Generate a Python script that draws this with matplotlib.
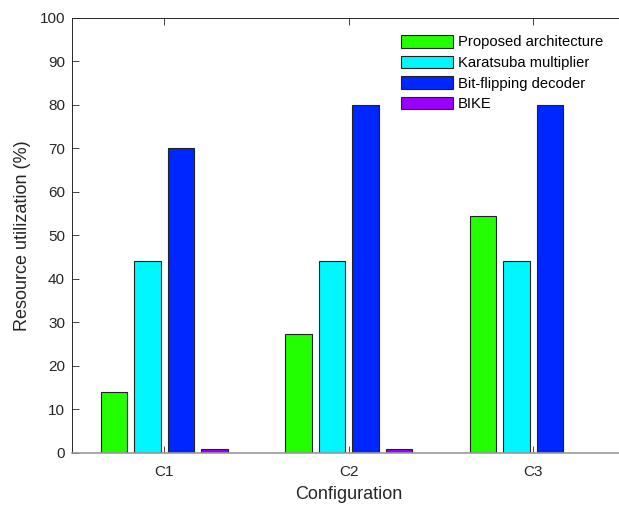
import numpy as np
import matplotlib
matplotlib.use("Agg")
import matplotlib.pyplot as plt

plt.rcParams["font.family"] = ["Liberation Sans", "DejaVu Sans"]

# ── data ───────────────────────────────────────────────────────────────────────
configs   = ["C1", "C2", "C3"]
proposed  = [14.1, 27.3, 54.4]
karatsuba = [44.0, 44.0, 44.0]
bitflip   = [70.0, 80.0, 80.0]
bike      = [0.9, 0.9, np.nan]

series = [
    ("Proposed architecture", proposed,  "#22FF00"),
    ("Karatsuba multiplier",  karatsuba, "#00F7FF"),
    ("Bit-flipping decoder",  bitflip,   "#0026FF"),
    ("BIKE",                  bike,      "#9B00FF"),
]

# ── figure ─────────────────────────────────────────────────────────────────────
fig = plt.figure(figsize=(6.19, 5.07), dpi=100)
ax = fig.add_axes([72/619, 1 - 453/507, 553.5/619, 435.5/507])

x = np.arange(1, len(configs) + 1)
pitch = 0.182
width = 0.145
for i, (lbl, vals, col) in enumerate(series):
    ax.bar(x + (i - 1.5) * pitch, vals, width=width, color=col,
           edgecolor="#222222", linewidth=0.8, label=lbl, zorder=2)

ax.set_xlim(0.5, 3.5)
ax.set_ylim(0, 100)
ax.set_yticks(np.arange(0, 101, 10))
ax.set_xticks(x)
ax.set_xticklabels(configs)
ax.tick_params(direction="in", length=5, width=0.6, colors="#262626",
               labelsize=11, top=True)
ax.tick_params(axis="y", pad=5)
ax.tick_params(axis="x", pad=9)
for side in ["left", "top", "right"]:
    ax.spines[side].set_color("#262626")
    ax.spines[side].set_linewidth(0.7)
ax.spines["bottom"].set_color("#999999")
ax.spines["bottom"].set_linewidth(1.2)

ax.set_xlabel("Configuration", fontsize=13, color="#262626", labelpad=5)
ax.set_ylabel("Resource utilization (%)", fontsize=13, color="#262626", labelpad=6)

ax.legend(loc="upper left", bbox_to_anchor=(401/619, 1 - 35/507),
          bbox_transform=fig.transFigure, frameon=False, fontsize=10.6,
          handlelength=3.5, handleheight=0.95, handletextpad=0.35,
          labelspacing=0.42, borderpad=0, borderaxespad=0)

plt.savefig("out.png", dpi=100)
